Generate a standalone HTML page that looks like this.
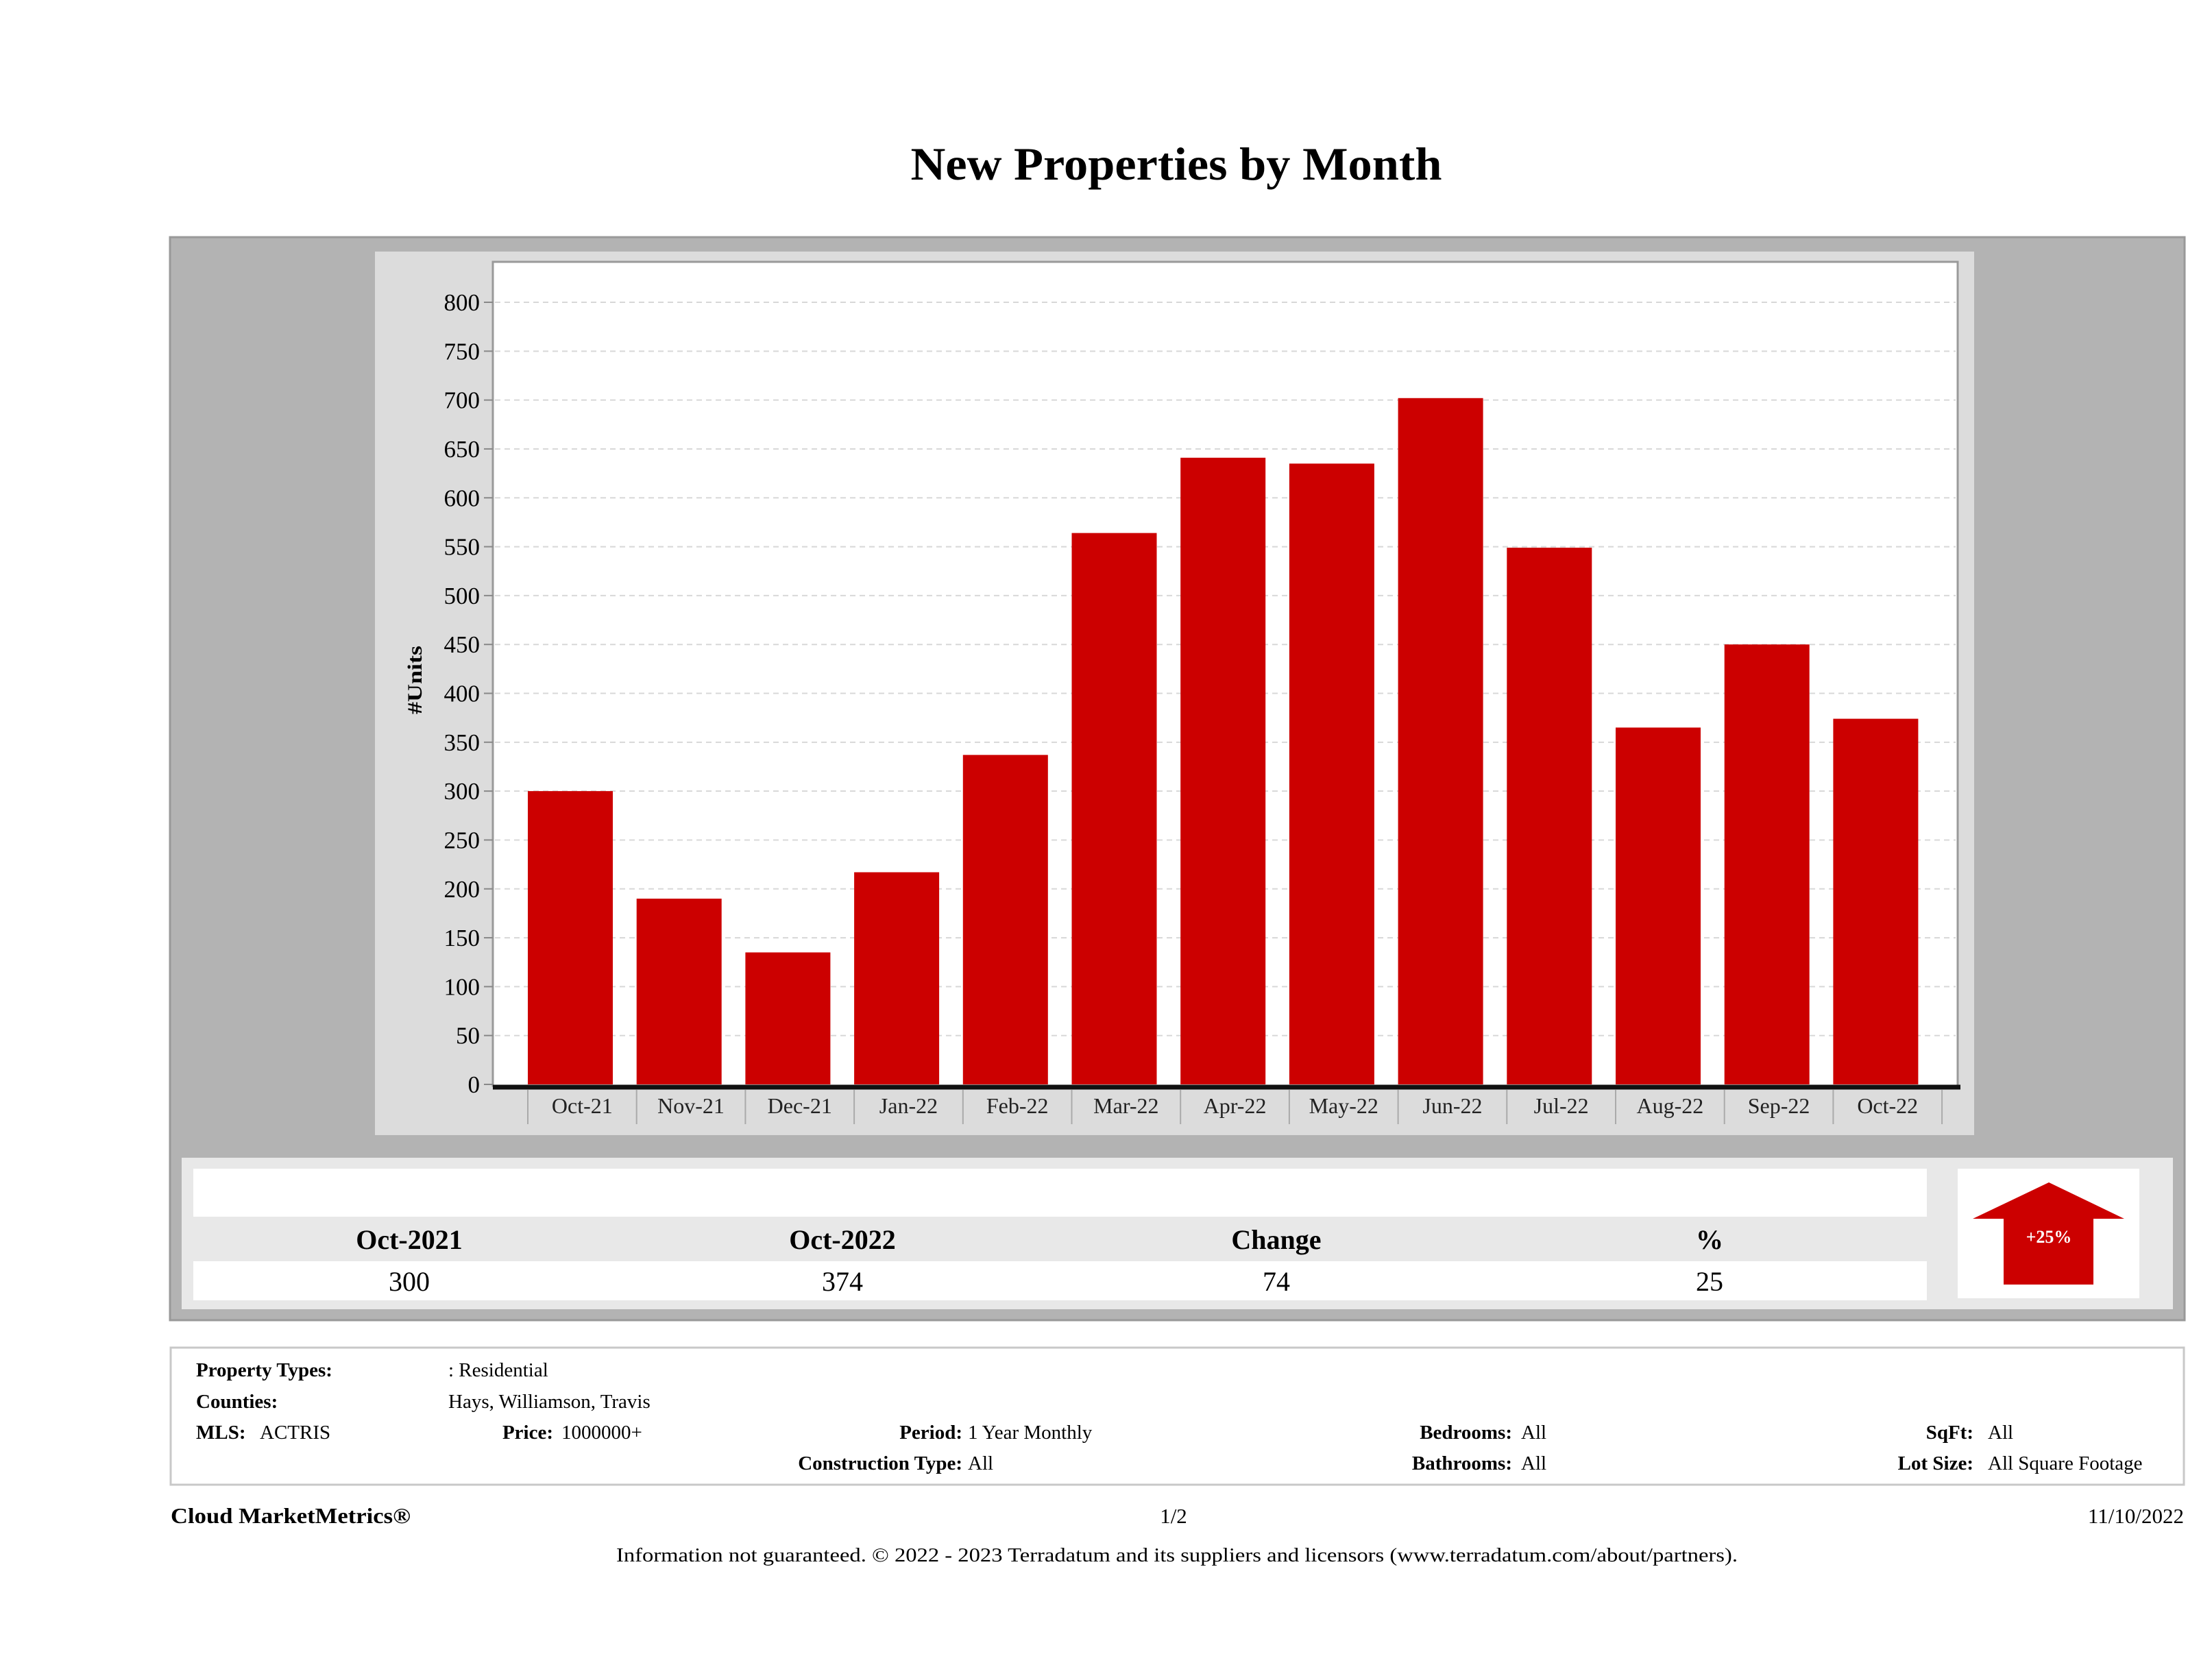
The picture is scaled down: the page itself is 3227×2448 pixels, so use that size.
<!DOCTYPE html>
<html><head><meta charset="utf-8"><style>
html,body{margin:0;padding:0;background:#fff;}
svg{display:block;font-family:"Liberation Serif",serif;}
</style></head><body>
<svg id="page" width="3227" height="2448" viewBox="0 0 3227 2448" xmlns="http://www.w3.org/2000/svg">
<text x="1716" y="262" text-anchor="middle" font-size="68" font-weight="bold" textLength="775" lengthAdjust="spacingAndGlyphs">New Properties by Month</text>
<rect x="248" y="346" width="2939" height="1580" fill="#b3b3b3" stroke="#999" stroke-width="3"/>
<rect x="547" y="367" width="2333" height="1289" fill="#dcdcdc"/>
<rect x="719" y="382" width="2137" height="1202" fill="#fff" stroke="#9a9a9a" stroke-width="3"/>
<g id="grid"></g>
<g id="yaxis"></g>
<g id="bars"></g>
<g id="xaxis"></g>
<text transform="translate(615,992) rotate(-90)" text-anchor="middle" font-size="30" font-weight="bold" textLength="100" lengthAdjust="spacingAndGlyphs">#Units</text>

<rect x="265" y="1689" width="2905" height="221" fill="#e8e8e8"/>
<rect x="282" y="1705" width="2529" height="70" fill="#fff"/>
<rect x="282" y="1840" width="2529" height="57" fill="#fff"/>
<g font-size="40" font-weight="bold" text-anchor="middle">
<text x="597" y="1822">Oct-2021</text>
<text x="1229" y="1822">Oct-2022</text>
<text x="1862" y="1822">Change</text>
<text x="2494" y="1822">%</text>
</g>
<g font-size="40" text-anchor="middle">
<text x="597" y="1883">300</text>
<text x="1229" y="1883">374</text>
<text x="1862" y="1883">74</text>
<text x="2494" y="1883">25</text>
</g>
<rect x="2856" y="1705" width="265" height="189" fill="#fff"/>
<polygon points="2989,1725 3099,1778 3054,1778 3054,1874 2923,1874 2923,1778 2878,1778" fill="#cc0000"/>
<text x="2989" y="1813" text-anchor="middle" font-size="26" font-weight="bold" fill="#fff">+25%</text>

<rect x="249" y="1966" width="2937" height="200" fill="#fff" stroke="#c8c8c8" stroke-width="3"/>
<g font-size="29">
<text x="286" y="2008" font-weight="bold">Property Types:</text>
<text x="654" y="2008">: Residential</text>
<text x="286" y="2054" font-weight="bold">Counties:</text>
<text x="654" y="2054">Hays, Williamson, Travis</text>
<text x="286" y="2099" font-weight="bold">MLS:</text>
<text x="379" y="2099">ACTRIS</text>
<text x="807" y="2099" font-weight="bold" text-anchor="end">Price:</text>
<text x="819" y="2099">1000000+</text>
<text x="1404" y="2099" font-weight="bold" text-anchor="end">Period:</text>
<text x="1412" y="2099">1 Year Monthly</text>
<text x="1404" y="2144" font-weight="bold" text-anchor="end">Construction Type:</text>
<text x="1412" y="2144">All</text>
<text x="2206" y="2099" font-weight="bold" text-anchor="end">Bedrooms:</text>
<text x="2219" y="2099">All</text>
<text x="2206" y="2144" font-weight="bold" text-anchor="end">Bathrooms:</text>
<text x="2219" y="2144">All</text>
<text x="2879" y="2099" font-weight="bold" text-anchor="end">SqFt:</text>
<text x="2900" y="2099">All</text>
<text x="2879" y="2144" font-weight="bold" text-anchor="end">Lot Size:</text>
<text x="2900" y="2144">All Square Footage</text>
</g>
<text x="249" y="2222" font-size="32" font-weight="bold" textLength="350" lengthAdjust="spacingAndGlyphs">Cloud MarketMetrics®</text>
<text x="1712" y="2222" font-size="31" text-anchor="middle">1/2</text>
<text x="3186" y="2222" font-size="31" text-anchor="end">11/10/2022</text>
<text x="1717" y="2278" font-size="29" text-anchor="middle" textLength="1636" lengthAdjust="spacingAndGlyphs">Information not guaranteed. © 2022 - 2023 Terradatum and its suppliers and licensors (www.terradatum.com/about/partners).</text>
</svg>
<script>
const categories = ["Oct-21","Nov-21","Dec-21","Jan-22","Feb-22","Mar-22","Apr-22","May-22","Jun-22","Jul-22","Aug-22","Sep-22","Oct-22"];
const newListings = [300,190,135,217,337,564,641,635,702,549,365,450,374];
const yTicks = [0,50,100,150,200,250,300,350,400,450,500,550,600,650,700,750,800];

const NS = "http://www.w3.org/2000/svg";
const yMin = 0, yMax = 800, y0px = 1582, y1px = 441;
const bandStart = 770, bandStep = 158.7, barW = 124;
function yScale(v){ return y0px - (v - yMin) / (yMax - yMin) * (y0px - y1px); }
function xBand(i){ return bandStart + i * bandStep; }
function mk(tag, attrs){ const e = document.createElementNS(NS, tag); for (const k in attrs) e.setAttribute(k, attrs[k]); return e; }

const grid = document.getElementById('grid');
const yaxis = document.getElementById('yaxis');
yTicks.forEach(t => {
  const y = yScale(t);
  if (t > 0) {
    const g = mk('line', {x1: 722, x2: 2853, y1: y, y2: y, stroke: '#d8d8d8', 'stroke-width': 2, 'stroke-dasharray': '8,6'});
    
    
    grid.appendChild(g);
  }
  const tk = mk('line', {x1: 706, x2: 719, y1: y, y2: y, stroke: '#888', 'stroke-width': 2});
  
  
  yaxis.appendChild(tk);
  const lb = mk('text', {x: 700, y: y + 12, 'text-anchor': 'end', 'font-size': 35});
  
  
  lb.textContent = t;
  yaxis.appendChild(lb);
});

const bars = document.getElementById('bars');
newListings.forEach((v, i) => {
  const top = yScale(v);
  const r = mk('rect', {x: xBand(i), y: top, width: barW, height: yScale(0) - top, fill: '#cc0000'});
  
  
  bars.appendChild(r);
});

const xaxis = document.getElementById('xaxis');
const axis = mk('line', {x1: 719, x2: 2860, y1: 1586, y2: 1586, stroke: '#111', 'stroke-width': 7});


xaxis.appendChild(axis);
for (let i = 0; i <= categories.length; i++) {
  const s = mk('line', {x1: xBand(i), x2: xBand(i), y1: 1590, y2: 1640, stroke: '#aaa', 'stroke-width': 2});
  
  
  xaxis.appendChild(s);
}
categories.forEach((c, i) => {
  const t = mk('text', {x: xBand(i) + bandStep / 2, y: 1624, 'text-anchor': 'middle', 'font-size': 32, fill: '#222'});
  
  
  t.textContent = c;
  xaxis.appendChild(t);
});
</script>
</body></html>
